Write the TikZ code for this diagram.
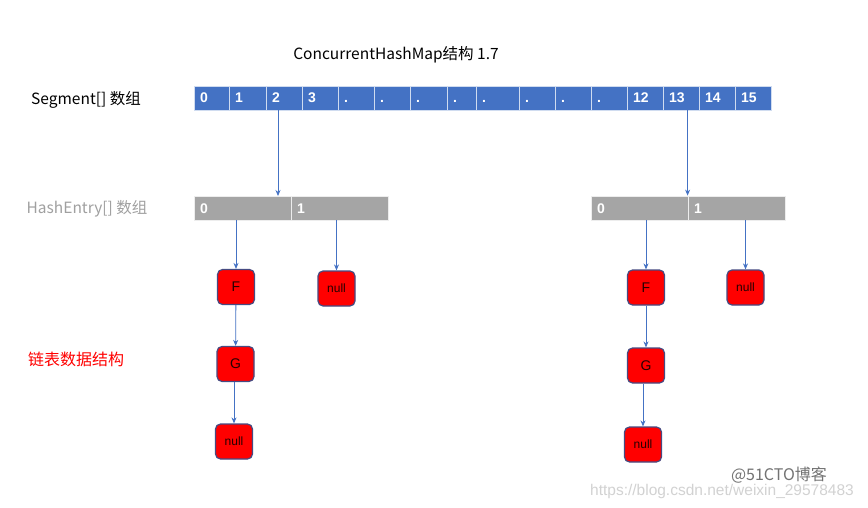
\documentclass[tikz,border=0pt]{standalone}
\usepackage{fontspec}
\setmainfont{Liberation Sans}
\newfontfamily\cjkfont{Noto Sans CJK SC}
\usetikzlibrary{arrows.meta,positioning}
\definecolor{segblue}{RGB}{68,114,196}
\definecolor{entrygray}{RGB}{165,165,165}
\definecolor{labelgray}{RGB}{160,160,160}
\definecolor{nodered}{RGB}{255,0,0}
\definecolor{nodeedge}{RGB}{70,75,130}
\definecolor{markgray}{RGB}{210,210,210}
\tikzset{
  cellbox/.style={rectangle, inner xsep=6pt, inner ysep=0pt, minimum height=24pt,
    align=left, text=white, font=\fontsize{14}{14}\selectfont\bfseries,
    text height=10pt, text depth=0pt},
  segcell/.style={cellbox, fill=segblue, draw=white!75!segblue, line width=.8pt},
  entrycell/.style={cellbox, fill=entrygray, draw=white!80!entrygray, line width=.8pt},
  listnode/.style={rectangle, rounded corners=5pt, fill=nodered, draw=nodeedge,
    line width=1.2pt, minimum width=37pt, minimum height=35pt, inner sep=0pt,
    text=black!85!red, font=\fontsize{14}{14}\selectfont},
  nullnode/.style={listnode, font=\fontsize{12}{12}\selectfont},
  link/.style={draw=segblue, line width=.8pt, -{Stealth[length=6pt,width=5pt]}},
  sidetext/.style={font=\cjkfont\fontsize{15.5}{15.5}\selectfont, inner sep=0pt}
}

\begin{document}
\begin{tikzpicture}[x=1pt,y=-1pt]
  \useasboundingbox[fill=white] (0,0) rectangle (868,508);

  % Labels on the left and the title.
  \node[sidetext] (title) at (396,55) {ConcurrentHashMap结构 1.7};
  \node[sidetext] (seglabel) at (86,100) {Segment[] 数组};
  \node[sidetext, text=labelgray] (entrylabel) at (87,209) {HashEntry[] 数组};
  \node[sidetext, text=red, font=\cjkfont\fontsize{16}{16}\selectfont]
    (listlabel) at (76,359) {链表数据结构};

  % Segment array, cells of uneven width as in the picture.
  \foreach \lo/\hi/\txt [count=\i from 0] in {194/229/0, 229/266/1, 266/302/2,
      302/338/3, 338/374/., 374/410/., 410/447/., 447/476/., 476/519/.,
      519/555/., 555/591/., 591/627/., 627/663/12, 663/699/13, 699/735/14,
      735/771/15}{%
    \pgfmathsetmacro\cellw{\hi-\lo-12}
    \node[segcell, text width=\cellw pt] (seg\i) at ({(\lo+\hi)/2},98) {\txt};
  }

  % HashEntry arrays.
  \node[entrycell, text width=85pt] (hl0) at (242.5,208) {0};
  \node[entrycell, text width=85pt] (hl1) at (339.5,208) {1};
  \node[entrycell, text width=85pt] (hr0) at (639.5,208) {0};
  \node[entrycell, text width=85pt] (hr1) at (736.5,208) {1};

  % Linked lists.
  \node[listnode] (lF) at (236,287) {F};
  \node[nullnode] (lnullA) at (336.5,288.5) {null};
  \node[listnode] (lG) at (235.5,364) {G};
  \node[nullnode] (lnullB) at (234,441.5) {null};
  \node[listnode] (rF) at (646,287.5) {F};
  \node[nullnode] (rnullA) at (745.5,287.5) {null};
  \node[listnode] (rG) at (646,365.5) {G};
  \node[nullnode] (rnullB) at (643,444.5) {null};

  \coordinate (lhit) at (278,196);
  \draw[link] (seg2.south -| lhit) -- (lhit);
  \draw[link] (seg13.south -| hr1.north west) -- (hr1.north west);
  \draw[link] (hl0.south -| lF.north) -- (lF.north);
  \draw[link] (hl1.south -| lnullA.north) -- (lnullA.north);
  \draw[link] (lF) -- (lG);
  \draw[link] (lG.south -| lnullB.north) -- (lnullB.north);
  \draw[link] (hr0.south -| rF.north) -- (rF.north);
  \draw[link] (hr1.south -| rnullA.north) -- (rnullA.north);
  \draw[link] (rF) -- (rG);
  \draw[link] (rG.south -| rnullB.north) -- (rnullB.north);

  % Watermarks.
  \node[sidetext, text=black!55, font=\cjkfont\fontsize{16}{16}\selectfont]
    (markA) at (779,475) {@51CTO博客};
  \node[inner sep=0pt, text=markgray, font=\fontsize{15.5}{15.5}\selectfont]
    (markB) at (722,491) {https://blog.csdn.net/weixin\_29578483};
\end{tikzpicture}
\end{document}
